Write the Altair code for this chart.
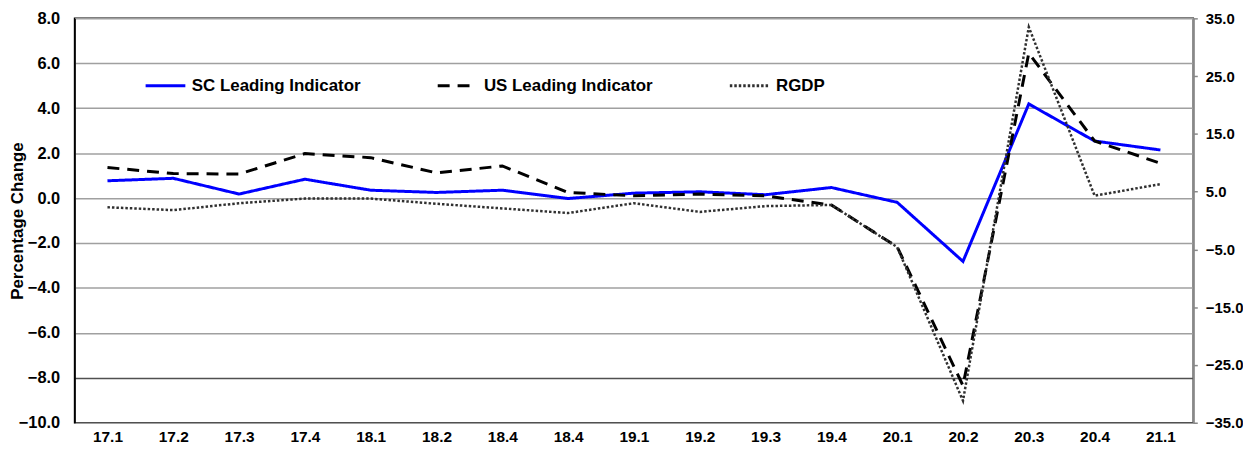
import altair as alt
import pandas as pd

quarters = ["17.1", "17.2", "17.3", "17.4", "18.1", "18.2", "18.4", "18.4", "19.1",
            "19.2", "19.3", "19.4", "20.1", "20.2", "20.3", "20.4", "21.1"]
sc_leading = [0.77, 0.88, 0.18, 0.84, 0.35, 0.25, 0.35, -0.02, 0.22, 0.28, 0.15,
              0.47, -0.19, -2.82, 4.19, 2.54, 2.14]
us_leading = [1.36, 1.09, 1.07, 1.98, 1.80, 1.12, 1.43, 0.25, 0.10, 0.18, 0.10,
              -0.31, -2.17, -8.35, 6.45, 2.54, 1.55]
rgdp = [2.3, 1.8, 3.0, 3.8, 3.8, 2.9, 2.1, 1.3, 3.0, 1.5, 2.5, 2.7, -4.6, -31.2,
        33.5, 4.3, 6.3]

series_names = ["SC Leading Indicator", "US Leading Indicator", "RGDP"]
left_ticks = [-10, -8, -6, -4, -2, 0, 2, 4, 6, 8]
right_ticks = [-35, -25, -15, -5, 5, 15, 25, 35]

rows = []
for name, vals in zip(series_names, [sc_leading, us_leading, rgdp]):
    for i, v in enumerate(vals):
        rows.append({"idx": i, "series": name, "value": v})
df = pd.DataFrame(rows)

FONT = "Arial, Liberation Sans, sans-serif"
label_expr = "[" + ",".join("'%s'" % q for q in quarters) + "][datum.value]"

x_enc = alt.X("idx:O", scale=alt.Scale(type="point", padding=0.5),
              axis=alt.Axis(title=None, labelExpr=label_expr, ticks=False, domain=False,
                            labelAngle=0, labelFont=FONT, labelFontWeight="bold",
                            labelFontSize=15.5, labelColor="black", labelPadding=7, grid=False))

legend = alt.Legend(orient="none", legendX=70, legendY=46, direction="horizontal",
                    title=None, symbolType="stroke", symbolSize=1600, symbolStrokeWidth=3,
                    labelFont=FONT, labelFontWeight="bold", labelFontSize=17,
                    labelColor="black", labelLimit=0, columnPadding=70, labelOffset=5,
                    padding=0)

color_enc = alt.Color("series:N",
                      scale=alt.Scale(domain=series_names, range=["#0000FF", "#000000", "#303030"]),
                      legend=legend)
dash_enc = alt.StrokeDash("series:N",
                          scale=alt.Scale(domain=series_names, range=[[1, 0], [12, 8], [2.5, 2]]),
                          legend=legend)

base = alt.Chart(df)

grid_color = {"condition": {"test": "datum.value == -8", "value": "#505050"}, "value": "#a0a0a0"}

left = base.transform_filter(
    alt.FieldOneOfPredicate(field="series", oneOf=series_names[:2])
).mark_line(strokeWidth=3).encode(
    x=x_enc,
    y=alt.Y("value:Q", scale=alt.Scale(domain=[-10, 8], nice=False, zero=False),
            axis=alt.Axis(values=left_ticks, format=".1f", title="Percentage Change",
                          titleFont=FONT, titleFontWeight="bold", titleFontSize=17,
                          titleColor="black", titlePadding=-8,
                          labelFont=FONT, labelFontWeight="bold", labelFontSize=16.5,
                          labelColor="black", labelPadding=15, ticks=False,
                          domainColor="black", domainWidth=1.5,
                          grid=True, gridColor=grid_color, gridWidth=1.5)),
    color=color_enc,
    strokeDash=dash_enc,
)

right = base.transform_filter(
    alt.FieldEqualPredicate(field="series", equal="RGDP")
).mark_line(strokeWidth=2.5).encode(
    x=x_enc,
    y=alt.Y("value:Q", scale=alt.Scale(domain=[-35, 35], nice=False, zero=False),
            axis=alt.Axis(orient="right", values=right_ticks, format=".1f", title=None,
                          labelFont=FONT, labelFontWeight="bold", labelFontSize=15,
                          labelColor="black", labelPadding=8, ticks=True, tickSize=4,
                          tickColor="#888888", tickWidth=1.5,
                          domainColor="#888888", domainWidth=2, grid=False)),
    color=color_enc,
    strokeDash=dash_enc,
)

chart = alt.layer(left, right).resolve_scale(y="independent").properties(
    width=1126, height=407,
    padding={"left": 0, "top": 1, "right": 0, "bottom": 0},
    background="white",
).configure_view(stroke="black", strokeWidth=1.5)

chart.save("out.html", embed_options={"renderer": "svg", "actions": False})
